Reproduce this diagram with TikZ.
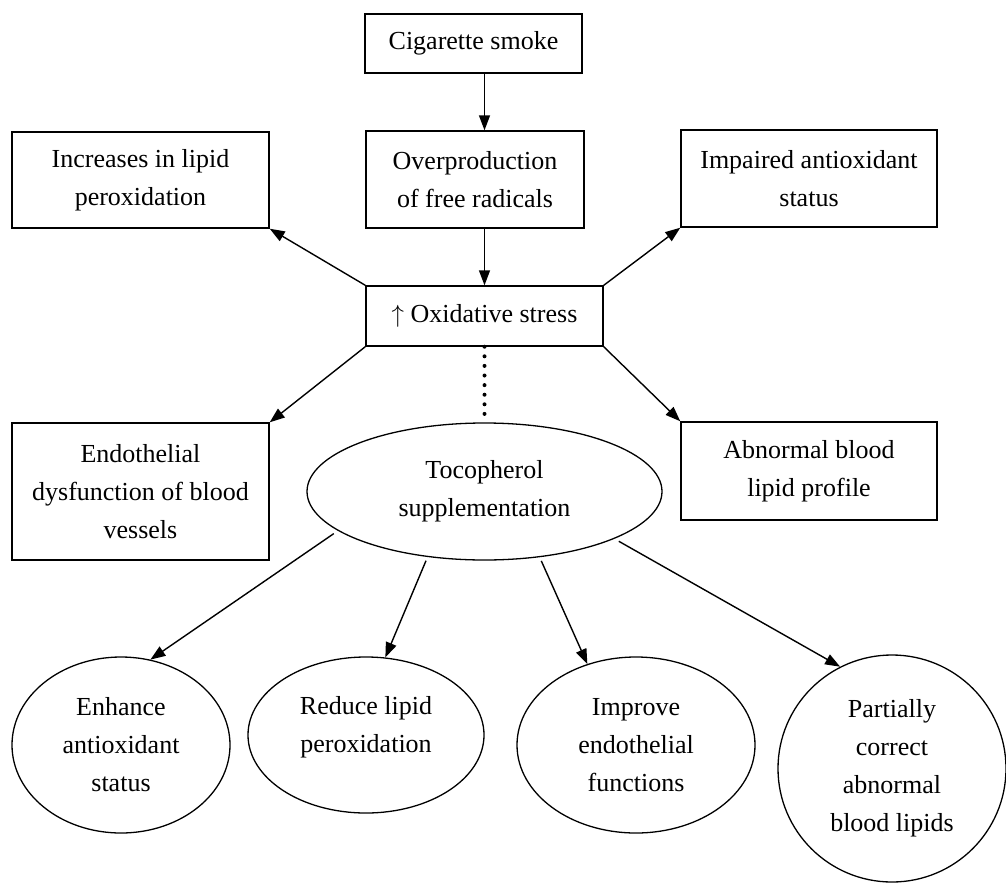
\documentclass[tikz,border=0pt]{standalone}
\usepackage{fontspec}
\setmainfont{Liberation Serif}
\usetikzlibrary{shapes.geometric,arrows.meta}
\begin{document}
\begin{tikzpicture}[x=1pt,y=-1pt,
  every node/.style={font=\fontsize{26}{38}\selectfont, align=center, inner sep=0pt},
  boxnode/.style={draw, line width=1.4pt, rectangle},
  ovalnode/.style={draw, line width=1.3pt, ellipse},
  conn/.style={line width=1.4pt, -{Triangle[length=15pt,width=11pt]}},
  dotline/.style={line width=4pt, line cap=round, dash pattern=on 0pt off 9.6pt}]
\useasboundingbox (0,0) rectangle (1006,886);
\node[boxnode, minimum width=217pt, minimum height=59pt] (cig) at (473.5,43.5) {Cigarette smoke};
\node[boxnode, minimum width=218pt, minimum height=97pt] (over) at (475,179.5) {Overproduction\\of free radicals};
\node[boxnode, minimum width=257pt, minimum height=96pt] (inc) at (140.5,180) {Increases in lipid\\peroxidation};
\node[boxnode, minimum width=256pt, minimum height=97pt] (imp) at (809,178.5) {Impaired antioxidant\\status};
\node[boxnode, minimum width=237pt, minimum height=60pt] (ox) at (484.5,316) {$\uparrow$ Oxidative stress};
\node[boxnode, minimum width=257pt, minimum height=137pt] (endo) at (140.5,491.5) {Endothelial\\dysfunction of blood\\vessels};
\node[boxnode, minimum width=256pt, minimum height=98pt] (abn) at (809,471) {Abnormal blood\\lipid profile};
\node[ovalnode, minimum width=355pt, minimum height=137pt] (toc) at (484.5,491.5) {Tocopherol\\supplementation};
\node[ovalnode, minimum width=218pt, minimum height=176pt] (enh) at (121,745) {Enhance\\antioxidant\\status};
\node[ovalnode, minimum width=236pt, minimum height=156pt,
      label={[yshift=8pt]center:Reduce lipid\\peroxidation}] (red) at (366,735) {};
\node[ovalnode, minimum width=238pt, minimum height=176pt] (imprv) at (636,745) {Improve\\endothelial\\functions};
\node[ovalnode, minimum width=228pt, minimum height=227pt] (part) at (892,768.5) {Partially\\correct\\abnormal\\blood lipids};
\draw[conn] (cig.south -| ox.north) -- (over.north -| ox.north);
\draw[conn] (over.south -| ox.north) -- (ox.north);
\draw[conn] (ox.north west) -- (inc.south east);
\draw[conn] (ox.north east) -- (imp.south west);
\draw[conn] (ox.south west) -- (endo.north east);
\draw[conn] (ox.south east) -- (abn.north west);
\draw[dotline, shorten >=8pt] (ox.south) -- (toc.north);
\draw[conn, shorten <=5pt] (toc.195) -- (enh.71);
\draw[conn, shorten <=4pt] (toc.229) -- (red.76);
\draw[conn, shorten <=4pt] (toc.310) -- (imprv.121);
\draw[conn, shorten <=5pt] (toc.340) -- (part.117);
\end{tikzpicture}
\end{document}
